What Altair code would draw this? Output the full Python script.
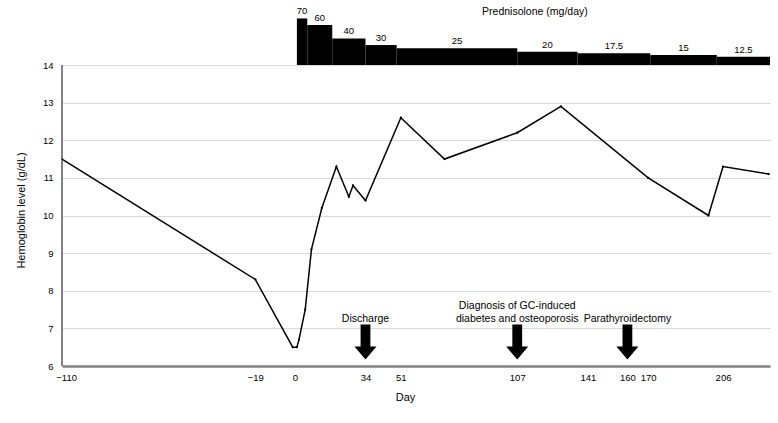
import altair as alt
import pandas as pd

# Hemoglobin series (day, g/dL)
hb_day = [-112, -19, -1, 1, 2, 5, 8, 13, 20, 26, 28, 34, 51, 72, 107, 128, 170, 199, 206, 228]
hb_value = [11.5, 8.3, 6.5, 6.5, 6.7, 7.5, 9.1, 10.2, 11.3, 10.5, 10.8, 10.4, 12.6, 11.5, 12.2, 12.9, 11.0, 10.0, 11.3, 11.1]

# Prednisolone dose steps
dose_start = [1, 6, 18, 34, 49, 107, 136, 171, 203]
dose_end = [6, 18, 34, 49, 107, 136, 171, 203, 228.6]
dose_mg = [70, 60, 40, 30, 25, 20, 17.5, 15, 12.5]
dose_label = ["70", "60", "40", "30", "25", "20", "17.5", "15", "12.5"]

# Events
event_day = [34, 107, 160]
event_line1 = ["", "Diagnosis of GC-induced", ""]
event_line2 = ["Discharge", "diabetes and osteoporosis", "Parathyroidectomy"]

# Axis ticks
day_ticks = [-110, -19, 0, 34, 51, 107, 141, 160, 170, 206]
hb_ticks = [6, 7, 8, 9, 10, 11, 12, 13, 14]

FONT = "Liberation Sans"

hb_df = pd.DataFrame({"day": hb_day, "hb": hb_value})
dose_df = pd.DataFrame({"start": dose_start, "end": dose_end, "mg": dose_mg, "label": dose_label})
ev_df = pd.DataFrame({"day": event_day, "l1": event_line1, "l2": event_line2})
title_df = pd.DataFrame({"t": ["Prednisolone (mg/day)"]})
axis_df = pd.DataFrame({"lo": [min(hb_ticks)], "hi": [max(hb_ticks)]})

XS = alt.Scale(domain=[-112, 228.6], nice=False, zero=False)
HB = alt.Scale(domain=[6, 14], range=[361, 60], nice=False, zero=False)
DOSE = alt.Scale(domain=[0, 90.2], range=[60, 0], nice=False, zero=False)

x_axis = alt.Axis(values=day_ticks, grid=False, domain=True, domainColor="#808080", domainWidth=2.5,
                  ticks=False, tickSize=0, labelPadding=6, labelFontSize=9.5, labelColor="black",
                  labelFlush=False, labelOverlap=False, labelFont=FONT,
                  titleFont=FONT, titleFontSize=11, titleFontWeight="normal", titleColor="black",
                  titleX=343, titleY=31, titleAlign="center", titleBaseline="middle")
y_axis = alt.Axis(values=hb_ticks, grid=True, gridColor="#d9d9d9", gridWidth=1,
                  domain=False, ticks=False, tickSize=0,
                  labelPadding=9, labelFontSize=9.5, labelColor="black", labelFont=FONT,
                  titleFont=FONT, titleFontSize=11, titleFontWeight="normal", titleColor="black",
                  titleX=-41, titleY=205, titleAngle=270, titleAlign="center", titleBaseline="middle")

line = alt.Chart(hb_df).mark_line(color="black", strokeWidth=1.5).encode(
    x=alt.X("day:Q", scale=XS, axis=x_axis, title="Day"),
    y=alt.Y("hb:Q", scale=HB, axis=y_axis, title="Hemoglobin level (g/dL)"),
)
pts = alt.Chart(hb_df).mark_point(color="black", filled=True, size=5, opacity=1).encode(
    x=alt.X("day:Q", scale=XS),
    y=alt.Y("hb:Q", scale=HB, axis=None),
)
y_line = alt.Chart(axis_df).mark_rule(color="#595959", strokeWidth=1.5).encode(
    x=alt.XDatum(-112, scale=XS, type="quantitative"),
    y=alt.Y("lo:Q", scale=HB, axis=None),
    y2="hi:Q",
)

ARROW = "M-0.28,-1 L0.28,-1 L0.28,0.26 L0.63,0.26 L0,1 L-0.63,0.26 L-0.28,0.26 Z"
arrows = alt.Chart(ev_df).transform_calculate(ay="6.638").mark_point(
    shape=ARROW, filled=True, color="black", size=1225, opacity=1, strokeWidth=0).encode(
    x=alt.X("day:Q", scale=XS),
    y=alt.Y("ay:Q", scale=HB, axis=None),
)
ev_text2 = alt.Chart(ev_df).transform_calculate(ty="7.17").mark_text(
    font=FONT, fontSize=10.5, baseline="alphabetic", align="center", color="black").encode(
    x=alt.X("day:Q", scale=XS),
    y=alt.Y("ty:Q", scale=HB, axis=None),
    text="l2:N",
)
ev_text1 = alt.Chart(ev_df).transform_calculate(ty="7.17").mark_text(
    font=FONT, fontSize=10.5, baseline="alphabetic", align="center", color="black", dy=-13).encode(
    x=alt.X("day:Q", scale=XS),
    y=alt.Y("ty:Q", scale=HB, axis=None),
    text="l1:N",
)

bars = alt.Chart(dose_df).mark_rect(color="black").encode(
    x=alt.X("start:Q", scale=XS),
    x2="end:Q",
    y=alt.Y("mg:Q", scale=DOSE, axis=None),
    y2=alt.Y2Datum(0),
)
dose_text = alt.Chart(dose_df).transform_calculate(
    mid="(datum.start + datum.end) / 2"
).mark_text(font=FONT, fontSize=9.5, baseline="bottom", dy=-2, align="center", color="black").encode(
    x=alt.X("mid:Q", scale=XS),
    y=alt.Y("mg:Q", scale=DOSE, axis=None),
    text="label:N",
)
dose_title = alt.Chart(title_df).transform_calculate(tx="115.5", ty="79.7").mark_text(
    font=FONT, fontSize=10.5, baseline="middle", align="center", color="black").encode(
    x=alt.X("tx:Q", scale=XS),
    y=alt.Y("ty:Q", scale=DOSE, axis=None),
    text="t:N",
)

chart = alt.layer(line, pts, y_line, arrows, ev_text1, ev_text2, bars, dose_text, dose_title).resolve_scale(
    y="independent"
).properties(
    width=708, height=361,
    padding={"left": 62, "top": 5, "right": 8, "bottom": 57},
    autosize=alt.AutoSizeParams(type="none"),
    background="white",
).configure(font=FONT).configure_view(stroke=None).configure_axis(
    domain=False, grid=False, ticks=False
)

chart.save("out.html", embed_options={"renderer": "svg", "actions": False})
